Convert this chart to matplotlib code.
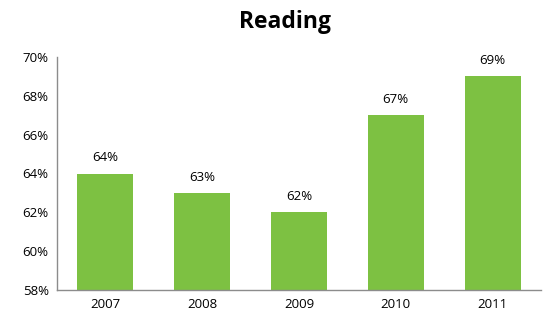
import matplotlib
matplotlib.use("Agg")
import matplotlib.pyplot as plt

years = ["2007", "2008", "2009", "2010", "2011"]
values = [64, 63, 62, 67, 69]
yticks = [58, 60, 62, 64, 66, 68, 70]

plt.rcParams['font.family'] = ['Open Sans', 'DejaVu Sans']

fig = plt.figure(figsize=(5.43, 3.2), dpi=100)
ax = fig.add_axes([57/543, 1-290/320, (541-57)/543, (290-57)/320])

x = range(len(years))
bars = ax.bar(x, values, width=0.58, color="#7DC142", bottom=0)
ax.set_ylim(58, 70)
ax.set_xlim(-0.5, len(years)-0.5)
ax.set_yticks(yticks)
ax.set_yticklabels([f"{v}%" for v in yticks], fontsize=9.5)
ax.set_xticks(list(x))
ax.set_xticklabels(years, fontsize=9.5)
ax.tick_params(length=0, pad=6)
for s in ["top", "right"]:
    ax.spines[s].set_visible(False)
for s in ["left", "bottom"]:
    ax.spines[s].set_color("#8C8C8C")
    ax.spines[s].set_linewidth(1)
for i, v in enumerate(values):
    ax.annotate(f"{v}%", (i, v), xytext=(0, 6.5), textcoords="offset points",
                ha="center", va="bottom", fontsize=9.5)
fig.text(0.525, 0.93, "Reading", ha="center", va="center", fontsize=16.5, fontweight="bold")
fig.savefig("out.png", dpi=100)
